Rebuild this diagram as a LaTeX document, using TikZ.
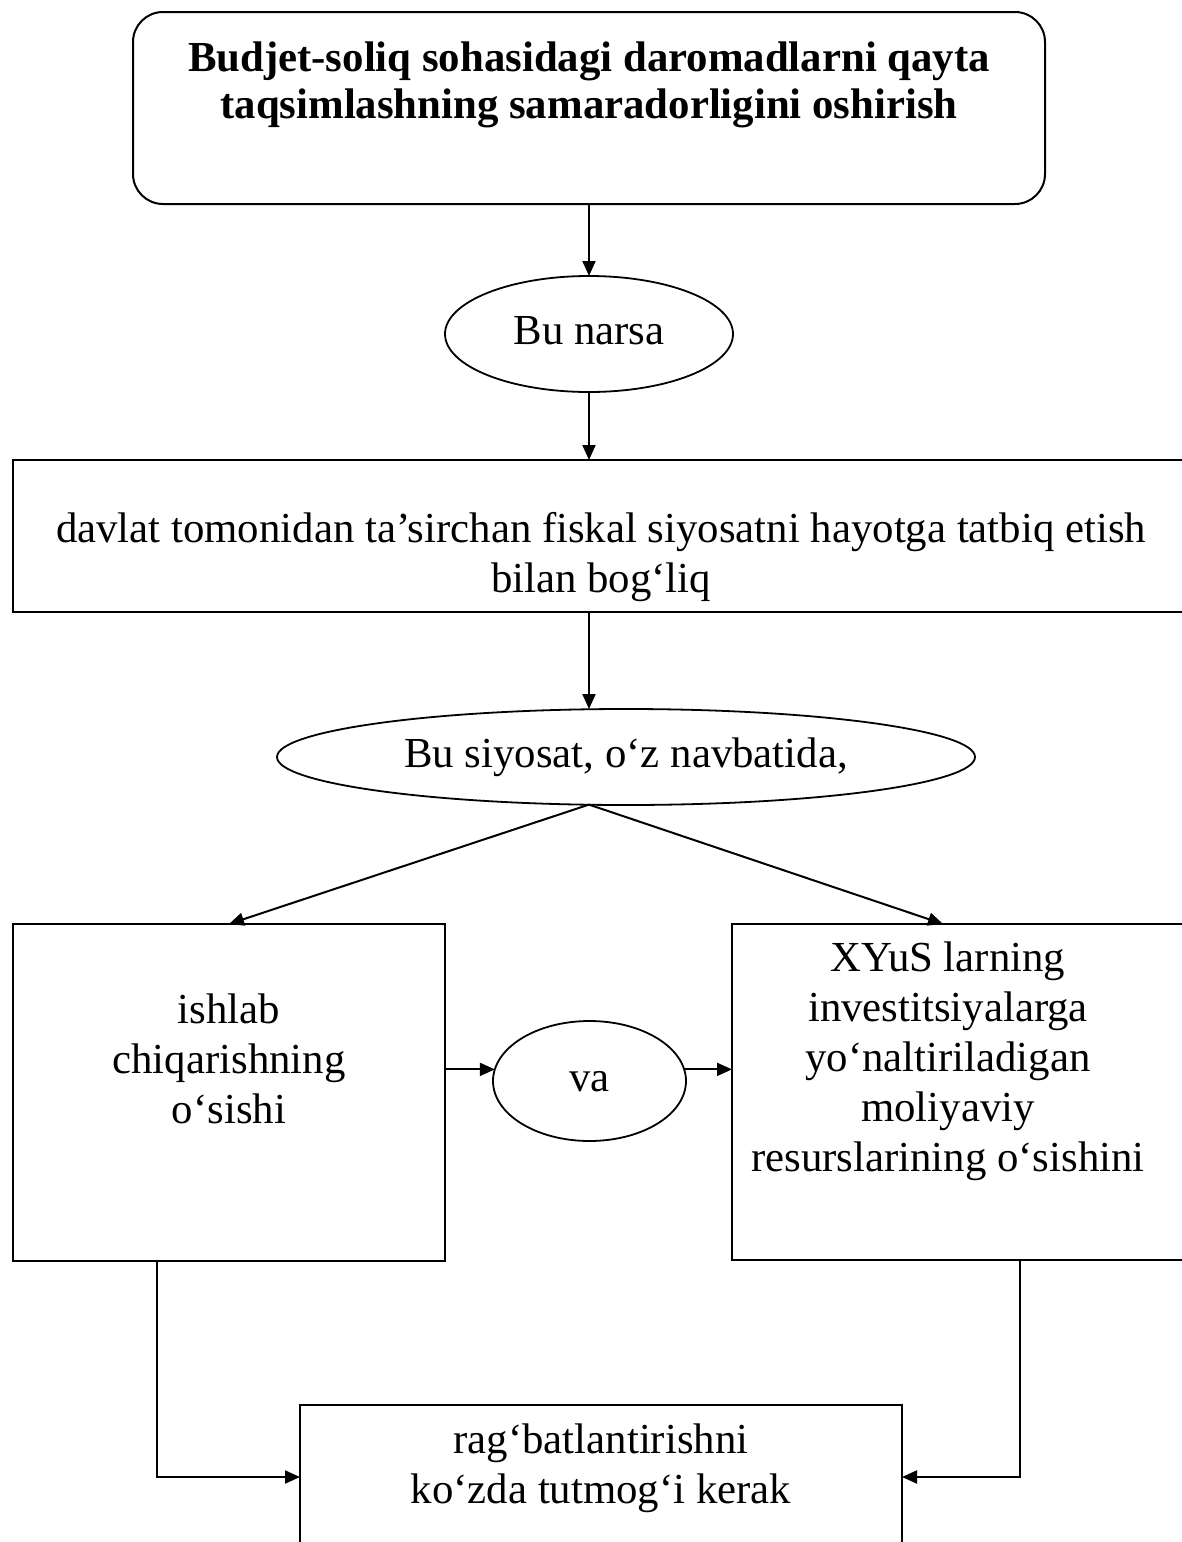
\documentclass[tikz,border=0pt]{standalone}
\usepackage{fontspec}
\setmainfont{Liberation Serif}
\usetikzlibrary{shapes.geometric,arrows.meta}
\tikzset{
  every node/.style={inner sep=0pt, outer sep=0pt},
  boxshape/.style={draw, line width=1pt, rectangle},
  ellshape/.style={draw, line width=0.9pt, ellipse, font=\fontsize{21.4}{25}\selectfont},
  txt/.style={align=center, font=\fontsize{21.4}{25}\selectfont},
  arr/.style={line width=1pt, -{Triangle[length=7.5pt,width=6.5pt]}},
  conn/.style={line width=1pt}
}
\begin{document}
\begin{tikzpicture}[x=0.5pt,y=-0.5pt]
\useasboundingbox (0,0) rectangle (1182,1542);
% boxes
\node[boxshape, rounded corners=15pt, minimum width=456pt, minimum height=96pt] (top) at (589,108) {};
\node[txt, font=\fontsize{21.4}{23.5}\selectfont\bfseries] (ttop) at (589,86) {\strut Budjet-soliq sohasidagi daromadlarni qayta\\ \strut taqsimlashning samaradorligini oshirish};
\node[ellshape, minimum width=144pt, minimum height=58pt] (narsa) at (589,334) {\strut Bu narsa};
\node[boxshape, minimum width=588pt, minimum height=76pt] (wide) at (601,536) {};
\node[txt] (twide) at (601,557) {\strut davlat tomonidan ta’sirchan fiskal siyosatni hayotga tatbiq etish\\ \strut bilan bog‘liq};
\node[ellshape, minimum width=349pt, minimum height=48pt] (siy) at (626,757) {\strut Bu siyosat, o‘z navbatida,};
\node[boxshape, minimum width=216pt, minimum height=168.5pt] (lbox) at (229,1092.5) {};
\node[txt] (tl) at (229,1063) {\strut ishlab\\ \strut chiqarishning\\ \strut o‘sishi};
\node[boxshape, minimum width=234pt, minimum height=168pt] (rbox) at (966,1092) {};
\node[txt] (tr) at (948,1061) {\strut XYuS larning\\ \strut investitsiyalarga\\ \strut yo‘naltiriladigan\\ \strut moliyaviy\\ \strut resurslarining o‘sishini};
\node[ellshape, minimum width=96.5pt, minimum height=60pt] (va) at (589.5,1081) {\strut va};
\node[boxshape, minimum width=301pt, minimum height=72pt] (bot) at (601,1477) {};
\node[txt] (tbot) at (601,1468) {\strut rag‘batlantirishni\\ \strut ko‘zda tutmog‘i kerak};
% connectors
\draw[arr] (top.south) -- (narsa.north);
\draw[arr] (narsa.south) -- ([xshift=-6pt]wide.north);
\draw[arr] ([xshift=-6pt]wide.south) -- ([xshift=-18.5pt]siy.north);
\draw[arr] ([xshift=-18.5pt,yshift=0.2pt]siy.south) -- (lbox.north);
\draw[arr] ([xshift=-18.5pt,yshift=0.2pt]siy.south) -- ([xshift=-11.5pt]rbox.north);
\draw[arr] (lbox.east |- va.173) -- (va.173);
\draw[arr] (va.7) -- (va.7 -| rbox.west);
\draw[arr] ([xshift=-36pt]lbox.south) |- (bot.west);
\draw[arr] ([xshift=27pt]rbox.south) |- (bot.east);
\end{tikzpicture}
\end{document}
